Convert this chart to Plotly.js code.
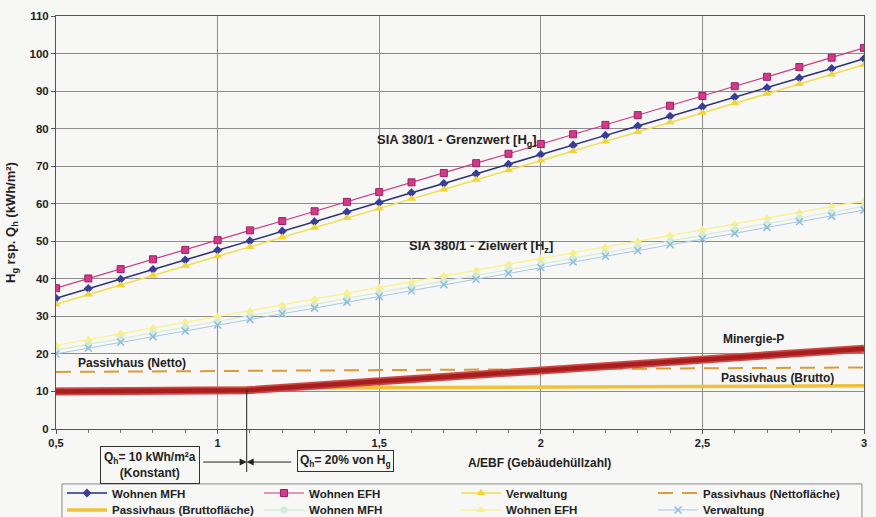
<!DOCTYPE html>
<html><head><meta charset="utf-8">
<script src="https://cdn.plot.ly/plotly-3.0.1.min.js"></script>
<style>html,body{margin:0;padding:0;background:#f7f7f5}#chart{width:876px;height:517px}</style>
</head><body><div id="chart"></div>
<script>
// A/EBF values
const xVals = [0.5,0.6,0.7,0.8,0.9,1.0,1.1,1.2,1.3,1.4,1.5,1.6,1.7,1.8,1.9,2.0,2.1,2.2,2.3,2.4,2.5,2.6,2.7,2.8,2.9,3.0];
// SIA 380/1 Grenzwert Hg
const hgWohnenMFH = [34.8,37.4,39.9,42.5,45.0,47.6,50.1,52.7,55.2,57.8,60.3,62.9,65.4,68.0,70.5,73.1,75.6,78.2,80.7,83.3,85.8,88.4,90.9,93.5,96.0,98.6];
const hgWohnenEFH = [37.5,40.1,42.6,45.2,47.7,50.3,52.9,55.4,58.0,60.5,63.1,65.7,68.2,70.8,73.3,75.9,78.5,81.0,83.6,86.1,88.7,91.3,93.8,96.4,98.9,101.5];
const hgVerwaltung = [33.2,35.8,38.3,40.9,43.4,46.0,48.5,51.1,53.6,56.2,58.7,61.3,63.8,66.4,68.9,71.5,74.0,76.6,79.1,81.7,84.2,86.8,89.3,91.9,94.4,97.0];
// SIA 380/1 Zielwert Hz
const hzWohnenMFH = [21.0,22.5,24.1,25.6,27.1,28.7,30.2,31.7,33.2,34.8,36.3,37.8,39.4,40.9,42.4,44.0,45.5,47.0,48.5,50.1,51.6,53.1,54.7,56.2,57.7,59.3];
const hzWohnenEFH = [22.3,23.8,25.4,26.9,28.5,30.0,31.5,33.1,34.6,36.2,37.7,39.2,40.8,42.3,43.9,45.4,46.9,48.5,50.0,51.6,53.1,54.6,56.2,57.7,59.3,60.8];
const hzVerwaltung = [20.0,21.5,23.1,24.6,26.1,27.7,29.2,30.7,32.2,33.8,35.3,36.8,38.4,39.9,41.4,43.0,44.5,46.0,47.5,49.1,50.6,52.1,53.7,55.2,56.7,58.3];
// Passivhaus and Minergie-P
const phX = [0.5,3.0];
const phNetto = [15.2,16.4];
const phBrutto = [10.6,11.5];
const minergieX = [0.5,1.09,3.0];
const minergieY = [10.0,10.3,21.4];
// tick labels
const xTickVals = [0.5,1,1.5,2,2.5,3];
const xTickText = ['0,5','1','1,5','2','2,5','3'];
const yTickVals = [0,10,20,30,40,50,60,70,80,90,100,110];

const F = 'Liberation Sans, Arial, sans-serif';
const traces = [
  {x:xVals,y:hgWohnenMFH,name:'Wohnen MFH',legend:'legend',mode:'lines+markers',line:{color:'#2b2d7a',width:1.5},marker:{symbol:'diamond',size:7,color:'#3a3c9a'}},
  {x:xVals,y:hgWohnenEFH,name:'Wohnen EFH',legend:'legend',mode:'lines+markers',line:{color:'#c83a82',width:1.2},marker:{symbol:'square',size:7,color:'#d23b8c',line:{color:'#a0205e',width:1}}},
  {x:xVals,y:hgVerwaltung,name:'Verwaltung',legend:'legend',mode:'lines+markers',line:{color:'#f2de4a',width:1.5},marker:{symbol:'triangle-up',size:8,color:'#f0d43a'}},
  {x:phX,y:phNetto,name:'Passivhaus (Nettofläche)',legend:'legend',mode:'lines',line:{color:'#dc9a3a',width:2,dash:'15px,9px'}},
  {x:phX,y:phBrutto,name:'Passivhaus (Bruttofläche)',legend:'legend2',mode:'lines',line:{color:'#f0c23a',width:3.5}},
  {x:xVals,y:hzWohnenMFH,name:'Wohnen MFH',legend:'legend2',mode:'lines+markers',line:{color:'#d6ecd6',width:1.2},marker:{symbol:'circle',size:7,color:'#d4ecd4'}},
  {x:xVals,y:hzWohnenEFH,name:'Wohnen EFH',legend:'legend2',mode:'lines+markers',line:{color:'#f8f39a',width:1.5},marker:{symbol:'triangle-up',size:8,color:'#f7f08a'}},
  {x:xVals,y:hzVerwaltung,name:'Verwaltung',legend:'legend2',mode:'lines+markers',line:{color:'#a6c8e6',width:1},marker:{symbol:'x-thin-open',size:7,color:'#8fbce2',line:{width:1.5,color:'#8fbce2'}}},
  {x:minergieX,y:minergieY,name:'Minergie-P',mode:'lines',showlegend:false,line:{color:'#cc4848',width:8}},
  {x:minergieX,y:minergieY,name:'Minergie-P',mode:'lines',showlegend:false,line:{color:'#a81e1e',width:4.5}}
];

const lab = (x,y,t,sz) => ({x:x,y:y,xref:'x',yref:'y',xanchor:'center',yanchor:'middle',text:t,showarrow:false,font:{family:F,size:sz||12,color:'#222',weight:'bold'}});
const pap = (x,y,t,extra) => Object.assign({x:x,y:y,xref:'paper',yref:'paper',xanchor:'center',yanchor:'middle',text:t,showarrow:false,font:{family:F,size:12,color:'#222',weight:'bold'}},extra||{});
const annotations = [
  lab(1.741,76.8,'SIA 380/1 - Grenzwert [H<sub>g</sub>]',13),
  lab(1.815,48.5,'SIA 380/1 - Zielwert [H<sub>z</sub>]',13),
  lab(0.735,17.6,'Passivhaus (Netto)'),
  lab(2.657,23.9,'Minergie-P'),
  lab(2.731,13.5,'Passivhaus (Brutto)'),
  pap(0.599,-0.083,'A/EBF (Gebäudehüllzahl)'),
  pap(0.1163,-0.0872,'Q<sub>h</sub>= 10 kWh/m²a<br>(Konstant)',{bordercolor:'#333',borderwidth:1,borderpad:3,bgcolor:'#f7f7f5'}),
  pap(0.3577,-0.0775,'Q<sub>h</sub>= 20% von H<sub>g</sub>',{bordercolor:'#333',borderwidth:1,borderpad:2,bgcolor:'#f7f7f5'}),
  {x:1.09,y:-0.08,xref:'x',yref:'paper',text:'',showarrow:true,ax:-45,ay:0,arrowhead:2,arrowsize:1.4,arrowwidth:1,arrowcolor:'#222',standoff:0},
  {x:1.09,y:-0.08,xref:'x',yref:'paper',text:'',showarrow:true,ax:46,ay:0,arrowhead:2,arrowsize:1.4,arrowwidth:1,arrowcolor:'#222',standoff:0}
];

const legendBase = {orientation:'h',x:0.0074,xanchor:'left',yanchor:'middle',bgcolor:'rgba(0,0,0,0)',borderwidth:0,
  itemwidth:40,entrywidth:142,entrywidthmode:'pixels',font:{family:F,size:11.5,color:'#222',weight:'bold'},tracegroupgap:0};

const layout = {
  width:876,height:517,
  margin:{l:56,r:12,t:16,b:88,autoexpand:false},
  paper_bgcolor:'#f7f7f5',plot_bgcolor:'#f7f7f5',
  font:{family:F,size:11,color:'#222'},
  showlegend:true,
  xaxis:{range:[0.5,3],tickvals:xTickVals,ticktext:xTickText,showgrid:true,gridcolor:'#8c8c8c',gridwidth:1,
    showline:true,linecolor:'#555',linewidth:1,mirror:true,ticks:'outside',ticklen:4,tickcolor:'#555',
    tickfont:{family:F,size:11,color:'#222',weight:'bold'},zeroline:false,automargin:false,
    minor:{dtick:0.1,ticks:'outside',ticklen:3,tickcolor:'#777',showgrid:false}},
  yaxis:{range:[0,110],tickvals:yTickVals,showgrid:true,gridcolor:'#8c8c8c',gridwidth:1,
    showline:true,linecolor:'#555',linewidth:1,mirror:true,ticks:'outside',ticklen:4,tickcolor:'#555',
    tickfont:{family:F,size:11.5,color:'#222',weight:'bold'},zeroline:false,automargin:false,
    title:{text:'H<sub>g</sub> rsp. Q<sub>h</sub> (kWh/m²)',font:{family:F,size:13,color:'#222',weight:'bold'},standoff:10}},
  legend:Object.assign({},legendBase,{y:-0.155}),
  legend2:Object.assign({},legendBase,{y:-0.196}),
  shapes:[
    {type:'line',xref:'x',yref:'paper',x0:1.09,x1:1.09,y0:-0.104,y1:0.094,line:{color:'#222',width:1}},
    {type:'rect',xref:'paper',yref:'paper',x0:0.0074,x1:0.9975,y0:-0.133,y1:-0.26,line:{color:'#888',width:1},layer:'below'}
  ],
  annotations:annotations
};
Plotly.newPlot('chart',traces,layout,{displayModeBar:false,staticPlot:true});
</script></body></html>
